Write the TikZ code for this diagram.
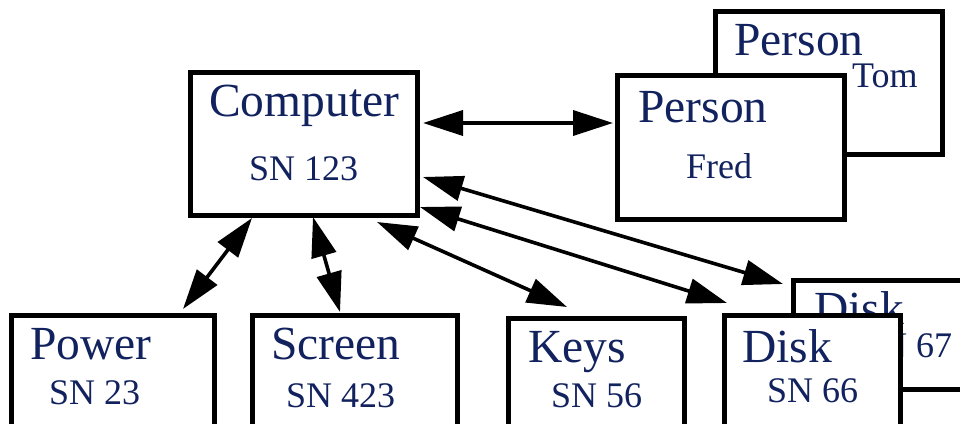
\documentclass[tikz,border=0pt]{standalone}
\usepackage{fontspec}
\setmainfont{Liberation Serif}
\usetikzlibrary{arrows.meta}
\definecolor{labelblue}{RGB}{17,34,94}
\begin{document}
\begin{tikzpicture}[x=1pt,y=-1pt,
  box/.style={draw=black,line width=5pt,fill=white,rectangle,inner sep=0pt},
  big/.style={anchor=base west,inner sep=0pt,text=labelblue,font=\fontsize{47.5}{50}\selectfont},
  small/.style={anchor=base west,inner sep=0pt,text=labelblue,font=\fontsize{36}{40}\selectfont},
  link/.style={line width=3.6pt,{Triangle[length=40pt,width=25pt]}-{Triangle[length=40pt,width=25pt]}}]
\clip (0,0) rectangle (960,423);

% computer
\node[box,minimum width=227pt,minimum height=143pt] (comp) at (304,144) {};
\node[big] (compname) at (209,116) {Computer};
\node[small] (compsn) at (249,180) {SN 123};

% the two people, Tom behind Fred
\node[box,minimum width=227pt,minimum height=143pt] (tom) at (829,83) {};
\node[big] (tomname) at (734,55) {Person};
\node[small] (tomid) at (852,87) {Tom};
\node[box,minimum width=227pt,minimum height=144pt] (fred) at (731,147.5) {};
\node[big] (fredname) at (638,122) {Person};
\node[small] (fredid) at (686,178) {Fred};

% parts
\node[box,minimum width=203pt,minimum height=143pt] (power) at (113,387) {};
\node[big] (powername) at (30,359) {Power};
\node[small] (powersn) at (49,404) {SN 23};

\node[box,minimum width=205pt,minimum height=143pt] (screen) at (355,387) {};
\node[big] (screenname) at (271,359) {Screen};
\node[small] (screensn) at (286,407) {SN 423};

\node[box,minimum width=176pt,minimum height=143pt] (keys) at (596.5,390) {};
\node[big] (keysname) at (528,362) {Keys};
\node[small] (keyssn) at (551,407) {SN 56};

% two disks, 67 behind 66
\node[box,minimum width=200pt,minimum height=109pt] (disk67) at (893.5,335) {};
\node[big] (disk67name) at (814,324) {Disk};
\node[small] (disk67sn) at (861,357) {SN 67};
\node[box,minimum width=176pt,minimum height=143pt] (disk66) at (812.5,387) {};
\node[big] (disk66name) at (742,362) {Disk};
\node[small] (disk66sn) at (767,402) {SN 66};

% links
\draw[link] ([xshift=-52pt]comp.south) -- ([xshift=70pt,yshift=4pt]power.north);
\draw[link] ([xshift=9pt,yshift=1pt]comp.south) -- ([xshift=-15pt,yshift=1pt]screen.north);
\draw[link] ([xshift=3pt,yshift=21pt]comp.east) -- ([xshift=-2pt,yshift=24.5pt]fred.west);
\draw[link] ([xshift=73pt,yshift=-4pt]comp.south) -- ([xshift=-29.5pt,yshift=9pt]keys.north);
\draw[link] ([yshift=11pt]comp.south east) -- ([xshift=5pt,yshift=10pt]disk66.north west);
\draw[link] ([xshift=3pt,yshift=-33pt]comp.east) -- ([xshift=-8pt,yshift=-6pt]disk67.north west);
\end{tikzpicture}
\end{document}
